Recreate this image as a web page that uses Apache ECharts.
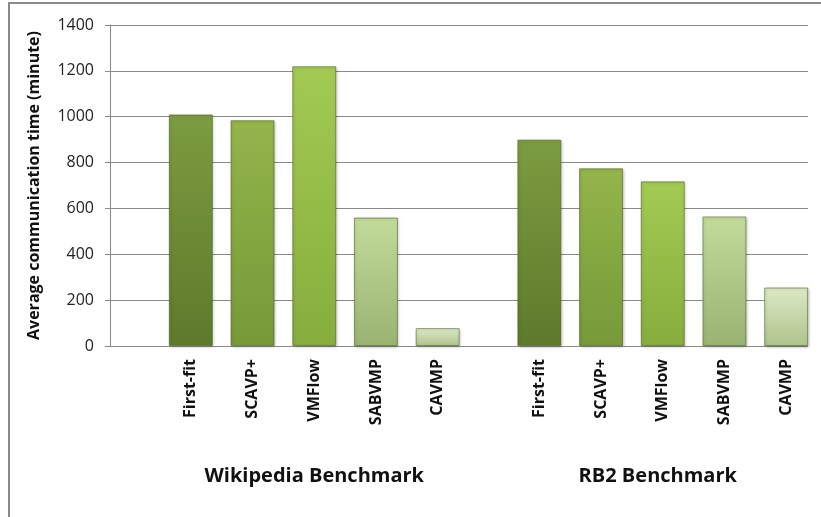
<!DOCTYPE html>
<html>
<head>
<meta charset="utf-8">
<script src="https://cdn.jsdelivr.net/npm/echarts@6/dist/echarts.min.js"></script>
<style>
  html, body { margin: 0; padding: 0; background: #fff; }
  #chart { width: 821px; height: 517px; }
</style>
</head>
<body>
<div id="chart"></div>
<script>
// 数据
var methods = ['First-fit', 'SCAVP+', 'VMFlow', 'SABVMP', 'CAVMP'];
var wikipediaValues = [1010, 985, 1220, 560, 78];
var rb2Values = [900, 775, 718, 565, 255];
var groupNames = ['Wikipedia Benchmark', 'RB2 Benchmark'];
var yTicks = [0, 200, 400, 600, 800, 1000, 1200, 1400];

// 每个方法的颜色 (上 -> 下)
var barColors = [
  ['#7c9c40', '#5d7a2b'],
  ['#93b54a', '#779938'],
  ['#a3ca52', '#87ad3d'],
  ['#c3db9a', '#9ab372'],
  ['#dde9c6', '#aec38c']
];

var chartDom = document.getElementById('chart');
var myChart = echarts.init(chartDom);

function makeData(values) {
  return values.map(function (v, i) {
    return {
      value: v,
      itemStyle: {
        color: new echarts.graphic.LinearGradient(0, 0, 0, 1, [
          { offset: 0, color: barColors[i][0] },
          { offset: 1, color: barColors[i][1] }
        ])
      }
    };
  });
}

var font = '"Open Sans", "Noto Sans", sans-serif';

function groupAxis(gridIndex, name, pad) {
  return {
    type: 'category',
    gridIndex: gridIndex,
    data: methods,
    axisLine: { show: false },
    axisTick: { show: false },
    axisLabel: {
      rotate: 90,
      margin: 13,
      color: '#111',
      fontSize: 16,
      fontWeight: 'bold',
      fontFamily: font
    },
    name: name,
    nameLocation: 'middle',
    nameGap: 120,
    nameTextStyle: {
      color: '#111',
      fontSize: 20,
      fontWeight: 'bold',
      fontFamily: font,
      padding: pad
    }
  };
}

function hiddenY(gridIndex) {
  return {
    type: 'value',
    gridIndex: gridIndex,
    min: 0,
    max: yTicks[yTicks.length - 1],
    interval: 200,
    show: false,
    splitLine: { show: false }
  };
}

var barItemStyle = {
  borderColor: 'rgba(70,95,25,0.55)',
  borderWidth: 1,
  shadowColor: 'rgba(0,0,0,0.25)',
  shadowBlur: 3,
  shadowOffsetX: 1,
  shadowOffsetY: 1
};

var option = {
  backgroundColor: '#fff',
  animation: false,
  grid: [
    { left: 110, right: 13, top: 25, bottom: 171 },   // 轴和网格线
    { left: 160, width: 308.5, top: 25, bottom: 171 }, // Wikipedia
    { left: 508.5, width: 308.5, top: 25, bottom: 171 } // RB2
  ],
  xAxis: [
    { type: 'value', gridIndex: 0, min: 0, max: 1, show: false },
    groupAxis(1, groupNames[0], [0, 0, 0, 0]),
    groupAxis(2, groupNames[1], [0, 10, 0, 0])
  ],
  yAxis: [
    {
      type: 'value',
      gridIndex: 0,
      min: 0,
      max: yTicks[yTicks.length - 1],
      interval: 200,
      axisLine: { show: true, lineStyle: { color: '#888', width: 1 } },
      axisTick: { show: true, length: 5, lineStyle: { color: '#888' } },
      axisLabel: {
        margin: 16,
        color: '#222',
        fontSize: 16,
        fontFamily: font,
        formatter: function (v) { return String(v); }
      },
      splitLine: { show: true, lineStyle: { color: '#8a8a8a', width: 1 } },
      name: 'Average communication time (minute)',
      nameLocation: 'middle',
      nameGap: 68,
      nameTextStyle: {
        color: '#111',
        fontSize: 16,
        fontWeight: 'bold',
        fontFamily: font
      }
    },
    hiddenY(1),
    hiddenY(2)
  ],
  series: [
    {
      name: groupNames[0],
      type: 'bar',
      xAxisIndex: 1,
      yAxisIndex: 1,
      barWidth: 44,
      itemStyle: barItemStyle,
      data: makeData(wikipediaValues)
    },
    {
      name: groupNames[1],
      type: 'bar',
      xAxisIndex: 2,
      yAxisIndex: 2,
      barWidth: 44,
      itemStyle: barItemStyle,
      data: makeData(rb2Values)
    }
  ],
  graphic: [
    {
      // 外框 (左和上)
      type: 'polyline',
      shape: { points: [[9, 517], [9, 3], [821, 3]] },
      style: { stroke: '#8a8a8a', lineWidth: 2, fill: null },
      silent: true
    }
  ]
};

myChart.setOption(option);
window.addEventListener('resize', function () {
  myChart.resize();
});
</script>
</body>
</html>
